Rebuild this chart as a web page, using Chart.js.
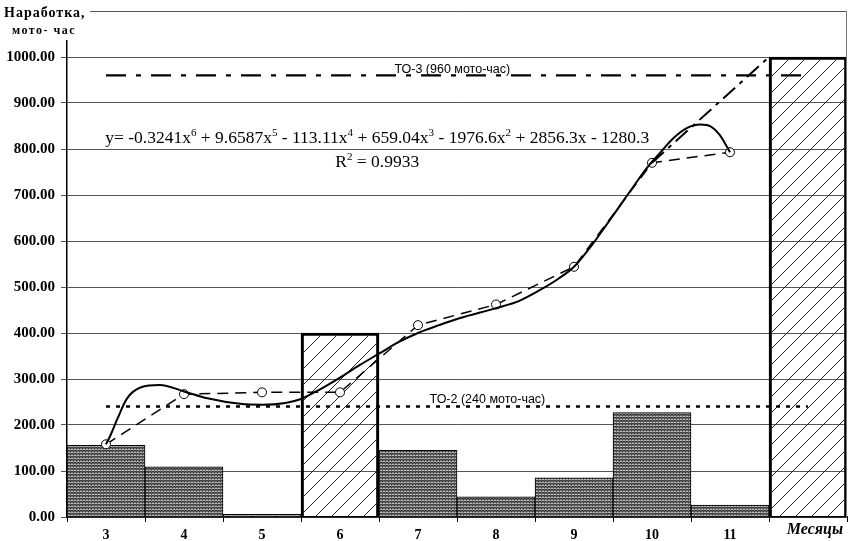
<!DOCTYPE html>
<html>
<head>
<meta charset="utf-8">
<script src="https://cdn.jsdelivr.net/npm/chart.js@4.4.1/dist/chart.umd.min.js"></script>
<style>
  body { margin: 0; background: #fff; }
  canvas { display: block; }
</style>
</head>
<body>
<canvas id="chart" width="848" height="541"></canvas>
<script>
//---------- data ----------
const months = ['3', '4', '5', '6', '7', '8', '9', '10', '11', ''];
// monthly running hours (stippled bars)
const monthlyHours = [156, 109, 6, null, 145, 44, 85, 227, 26, null];
// service / reserve periods (hatched bars)
const reserveHours = [null, null, null, 400, null, null, null, null, null, 1000];

// accumulated running hours (circles + dashed polyline)
const pointMonths = [3, 4, 5, 6, 7, 8, 9, 10, 11];
const totalHours = [158, 267, 271, 271, 417, 462, 544, 770, 793];

// polynomial trend, traced
const trendMonths = [3, 3.05, 3.15, 3.27, 3.45, 3.69, 4, 4.3, 4.72, 5, 5.3, 5.49, 5.75, 6, 6.25, 6.5, 6.75, 7,
  7.27, 7.53, 8, 8.3, 8.56, 8.8, 9, 9.25, 9.42, 9.59, 9.76, 9.93, 10.1, 10.27, 10.44, 10.62, 10.75, 10.87, 10.95, 11];
const trendHours = [158, 175, 215, 258, 282, 287, 273, 258, 246, 244, 248, 256, 278, 303, 330, 355, 380, 400,
  417, 432, 454, 470, 493, 518, 544, 596, 636, 677, 718, 758, 791, 823, 845, 853, 849, 830, 808, 793];

// forecast up to the next overhaul
const forecastMonths = [10, 11.5];
const forecastHours = [770, 1000];

// maintenance limits
const limitMonths = [3, 12];
const to2Hours = 240;
const to3Hours = 960;

const equationParts = [
  ['y= -0.3241x', '6'], [' + 9.6587x', '5'], [' - 113.11x', '4'], [' + 659.04x', '3'],
  [' - 1976.6x', '2'], [' + 2856.3x - 1280.3', '']
];

//---------- fill patterns ----------
const canvas = document.getElementById('chart');
const mainCtx = canvas.getContext('2d');

function makeStipple() {
  const c = document.createElement('canvas');
  c.width = 3; c.height = 3;
  const g = c.getContext('2d');
  g.fillStyle = '#707070';
  g.fillRect(0, 0, 3, 3);
  g.fillStyle = '#333';
  g.fillRect(0, 0, 1, 1);
  g.fillRect(2, 0, 1, 1);
  g.fillRect(1, 1, 1, 1);
  g.fillStyle = '#bdbdbd';
  g.fillRect(0, 2, 1, 1);
  g.fillRect(2, 2, 1, 1);
  return mainCtx.createPattern(c, 'repeat');
}

function makeHatch() {
  const s = 16;
  const c = document.createElement('canvas');
  c.width = s; c.height = s;
  const g = c.getContext('2d');
  g.strokeStyle = '#222';
  g.lineWidth = 1;
  g.beginPath();
  g.moveTo(0, s); g.lineTo(s, 0);
  g.moveTo(-2, 2); g.lineTo(2, -2);
  g.moveTo(s - 2, s + 2); g.lineTo(s + 2, s - 2);
  g.stroke();
  return mainCtx.createPattern(c, 'repeat');
}

const toXY = (xs, ys) => xs.map((x, i) => ({ x: x, y: ys[i] }));

//---------- texts drawn over the plot ----------
const serif = '"Liberation Serif", "Times New Roman", serif';

function drawPowerText(ctx, parts, x, y, size) {
  parts.forEach(p => {
    ctx.font = size + 'px ' + serif;
    ctx.fillText(p[0], x, y);
    x += ctx.measureText(p[0]).width;
    if (p[1]) {
      ctx.font = Math.round(size * 0.62) + 'px ' + serif;
      ctx.fillText(p[1], x, y - size * 0.38);
      x += ctx.measureText(p[1]).width;
    }
  });
}

const textPlugin = {
  id: 'chartTexts',
  afterDatasetsDraw(chart) {
    const ctx = chart.ctx;
    const xs = chart.scales.xc;
    const ys = chart.scales.y;
    ctx.save();
    ctx.fillStyle = '#000';

    // limit captions
    ctx.font = '12.5px "Liberation Sans", Arial, sans-serif';
    ctx.textAlign = 'center';
    ctx.textBaseline = 'alphabetic';
    ctx.fillText('ТО-3 (960 мото-час)', xs.getPixelForValue(7.44), ys.getPixelForValue(to3Hours) - 2);
    ctx.fillText('ТО-2 (240 мото-час)', xs.getPixelForValue(7.89), ys.getPixelForValue(to2Hours) - 4);

    // trend equation and R²
    ctx.textAlign = 'left';
    drawPowerText(ctx, equationParts, xs.getPixelForValue(2.99), ys.getPixelForValue(813), 17.5);
    drawPowerText(ctx, [['R', '2'], [' = 0.9933', '']], xs.getPixelForValue(5.94), ys.getPixelForValue(761), 17.5);
    ctx.restore();
  },
  afterDraw(chart) {
    const ctx = chart.ctx;
    const area = chart.chartArea;
    ctx.save();
    // plot area right border
    ctx.strokeStyle = '#777';
    ctx.lineWidth = 1;
    ctx.beginPath();
    ctx.moveTo(area.right - 0.5, area.top);
    ctx.lineTo(area.right - 0.5, area.bottom);
    ctx.stroke();

    // y axis title
    ctx.fillStyle = '#fff';
    ctx.fillRect(0, 0, 90, 40);
    ctx.fillStyle = '#000';
    ctx.textAlign = 'left';
    ctx.textBaseline = 'middle';
    ctx.letterSpacing = '1px';
    ctx.font = 'bold 14px ' + serif;
    ctx.fillText('Наработка,', 4, 13);
    ctx.letterSpacing = '1.5px';
    ctx.font = 'bold 12px ' + serif;
    ctx.fillText('мото- час', 12, 31);
    ctx.letterSpacing = '0px';

    // x axis title
    ctx.font = 'italic bold 16px ' + serif;
    ctx.textAlign = 'right';
    ctx.fillText('Месяцы', 843, 530);
    ctx.restore();
  }
};

//---------- chart ----------
const chart = new Chart(canvas, {
  type: 'bar',
  data: {
    labels: months,
    datasets: [
      {
        type: 'line', label: 'ТО-3', xAxisID: 'xc', order: 0,
        data: toXY(limitMonths, limitMonths.map(() => to3Hours)),
        borderColor: '#000', borderWidth: 2.2, borderDash: [20, 10, 5, 10],
        pointRadius: 0, fill: false
      },
      {
        type: 'line', label: 'ТО-2', xAxisID: 'xc', order: 0,
        data: toXY(limitMonths, limitMonths.map(() => to2Hours)),
        borderColor: '#000', borderWidth: 2.5, borderDash: [4, 6],
        pointRadius: 0, fill: false
      },
      {
        type: 'line', label: 'Прогноз', xAxisID: 'xc', order: 0,
        data: toXY(forecastMonths, forecastHours),
        borderColor: '#000', borderWidth: 2, borderDash: [16, 6, 4, 6],
        pointRadius: 0, fill: false
      },
      {
        type: 'line', label: 'Тренд', xAxisID: 'xc', order: 0,
        data: toXY(trendMonths, trendHours),
        borderColor: '#000', borderWidth: 2, cubicInterpolationMode: 'monotone',
        pointRadius: 0, fill: false
      },
      {
        type: 'line', label: 'Наработка', xAxisID: 'xc', order: 0,
        data: toXY(pointMonths, totalHours),
        borderColor: '#000', borderWidth: 1.5, borderDash: [11, 7], tension: 0,
        pointRadius: 4.5, pointBackgroundColor: '#fff', pointBorderColor: '#000', pointBorderWidth: 1,
        fill: false
      },
      {
        label: 'Резерв', order: 2, grouped: false,
        data: reserveHours,
        backgroundColor: makeHatch(), borderColor: '#000', borderWidth: 2.5,
        barPercentage: 1, categoryPercentage: 1
      },
      {
        label: 'За месяц', order: 1, grouped: false,
        data: monthlyHours,
        backgroundColor: makeStipple(), borderColor: '#000', borderWidth: 1,
        barPercentage: 1, categoryPercentage: 1
      }
    ]
  },
  options: {
    responsive: false,
    animation: false,
    layout: { autoPadding: false, padding: { top: 11, right: 1, left: 0, bottom: 0 } },
    plugins: {
      legend: { display: false },
      tooltip: { enabled: false }
    },
    scales: {
      x: {
        offset: true,
        grid: { display: true, drawOnChartArea: false, offset: true, tickLength: 5, color: '#000' },
        border: { color: '#000', width: 1.5 },
        ticks: {
          color: '#000', padding: 5, maxRotation: 0,
          font: { family: serif, weight: 'bold', size: 14 }
        },
        afterFit(scale) {
          scale.height = 24;
          scale.paddingLeft = 0;
          scale.paddingRight = 0;
        }
      },
      xc: {
        type: 'linear', display: false, offset: false, min: 2.5, max: 12.5,
        grid: { offset: false }
      },
      y: {
        min: 0, max: 1100,
        grid: { color: '#555', lineWidth: 1, tickLength: 6 },
        border: { color: '#000', width: 1.5 },
        ticks: {
          stepSize: 100, color: '#000', padding: 6,
          font: { family: serif, weight: 'bold', size: 15 },
          callback: v => v > 1000 ? '' : v.toFixed(2)
        },
        afterFit(scale) {
          scale.width = 67;
          scale.paddingTop = 0;
          scale.paddingBottom = 0;
        }
      }
    }
  },
  plugins: [textPlugin]
});
</script>
</body>
</html>
